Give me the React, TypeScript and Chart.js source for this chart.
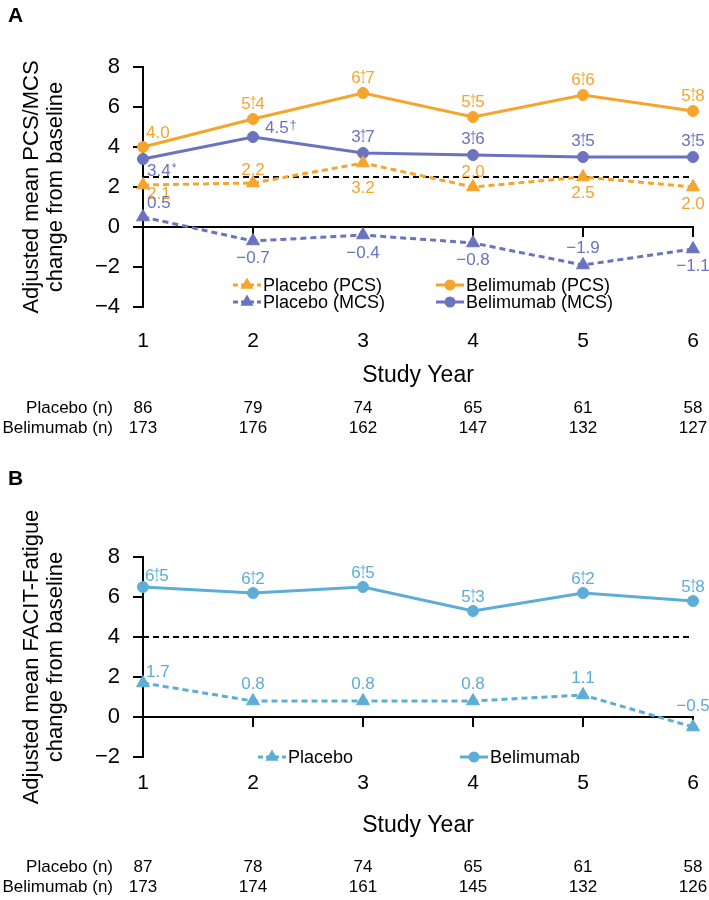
import { useEffect, useRef } from 'react';
import { Chart, registerables } from 'chart.js';

Chart.register(...registerables);

// ---------- data ----------
const studyYears = [1, 2, 3, 4, 5, 6];

// Panel A: SF-36 PCS / MCS
const pcsPlacebo = [2.1, 2.2, 3.2, 2.0, 2.5, 2.0];
const pcsBelimumab = [4.0, 5.4, 6.7, 5.5, 6.6, 5.8];
const mcsPlacebo = [0.5, -0.7, -0.4, -0.8, -1.9, -1.1];
const mcsBelimumab = [3.4, 4.5, 3.7, 3.6, 3.5, 3.5];
const pcsPlaceboSig = ['', '', '', '', '', ''];
const pcsBelimumabSig = ['', '†', '†', '†', '†', '†'];
const mcsPlaceboSig = ['', '', '', '', '', ''];
const mcsBelimumabSig = ['*', '†', '†', '†', '†', '†'];
const thresholdA = 2.5;
const yTicksA = [-4, 8];
const nPlaceboA = [86, 79, 74, 65, 61, 58];
const nBelimumabA = [173, 176, 162, 147, 132, 127];

// Panel B: FACIT-Fatigue
const facitPlacebo = [1.7, 0.8, 0.8, 0.8, 1.1, -0.5];
const facitBelimumab = [6.5, 6.2, 6.5, 5.3, 6.2, 5.8];
const facitPlaceboSig = ['', '', '', '', '', ''];
const facitBelimumabSig = ['†', '†', '†', '†', '†', '†'];
const thresholdB = 4;
const yTicksB = [-2, 8];
const nPlaceboB = [87, 78, 74, 65, 61, 58];
const nBelimumabB = [173, 174, 161, 145, 132, 126];

// ---------- styles ----------
const FONT = '"Liberation Sans", Arial, Helvetica, sans-serif';
const ORANGE = '#F5A52C';
const PURPLE = '#6A73BF';
const BLUE = '#5DADD6';
const W = 709;
const H = 450;

type Place = { dx: number; dy: number; align: 'left' | 'center'; over?: boolean };
const C = (dy: number, over = false): Place => ({ dx: 0, dy, align: 'center', over });
const L = (dx: number, dy: number, over = false): Place => ({ dx, dy, align: 'left', over });

type Series = {
  label: string;
  values: number[];
  marks: string[];
  color: string;
  dashed: boolean;
  pointStyle: 'circle' | 'triangle';
  places: Place[];
};

type PanelCfg = {
  tag: string;
  tagY: number;
  yRange: number[];
  yTitle: string[];
  padTop: number;
  xTickGap: number;
  threshold: number;
  series: Series[];
  legend: { series: number; x: number; y: number }[];
  nRows: { label: string; values: number[]; y: number }[];
};

function fmt(v: number) {
  const s = Math.abs(v).toFixed(1);
  return v < 0 ? '\u2212' + s : s;
}

function drawLabel(ctx: CanvasRenderingContext2D, x: number, y: number, v: number, mark: string, p: Place, color: string) {
  const txt = fmt(v);
  ctx.save();
  ctx.fillStyle = color;
  ctx.font = `17px ${FONT}`;
  ctx.textBaseline = 'middle';
  ctx.textAlign = 'left';
  const w = ctx.measureText(txt).width;
  const left = p.align === 'left' ? x + p.dx : x + p.dx - w / 2;
  const cy = y + p.dy;
  ctx.fillText(txt, left, cy);
  if (mark) {
    const dot = txt.indexOf('.');
    const pre = ctx.measureText(txt.slice(0, dot)).width;
    const dotW = ctx.measureText('.').width;
    ctx.font = `12px ${FONT}`;
    ctx.textBaseline = 'alphabetic';
    if (p.over && mark === '†') {
      ctx.textAlign = 'center';
      ctx.fillText(mark, left + pre + dotW / 2, cy + 1);
    } else {
      ctx.textAlign = 'left';
      ctx.fillText(mark, left + w + 1, cy + 1);
    }
  }
  ctx.restore();
}

function drawMarker(ctx: CanvasRenderingContext2D, style: string, x: number, y: number, color: string) {
  ctx.save();
  ctx.fillStyle = color;
  ctx.beginPath();
  if (style === 'triangle') {
    const r = 7.5;
    let a = 0;
    ctx.moveTo(x + Math.sin(a) * r, y - Math.cos(a) * r);
    a += (2 * Math.PI) / 3;
    ctx.lineTo(x + Math.sin(a) * r, y - Math.cos(a) * r);
    a += (2 * Math.PI) / 3;
    ctx.lineTo(x + Math.sin(a) * r, y - Math.cos(a) * r);
    ctx.closePath();
  } else {
    ctx.arc(x, y, 5.5, 0, Math.PI * 2);
  }
  ctx.fill();
  ctx.restore();
}

function makePlugin(p: PanelCfg) {
  return {
    id: 'extras' + p.tag,
    beforeDatasetsDraw(chart: any) {
      const { ctx, chartArea, scales } = chart;
      const y0 = scales.y.getPixelForValue(0);
      ctx.save();
      ctx.strokeStyle = '#000';
      ctx.lineWidth = 2;
      ctx.beginPath();
      ctx.moveTo(chartArea.left, y0);
      ctx.lineTo(chartArea.right + 1, y0);
      studyYears.slice(1).forEach((yr) => {
        const px = scales.x.getPixelForValue(yr);
        ctx.moveTo(px, y0);
        ctx.lineTo(px, y0 + 10);
      });
      ctx.stroke();
      ctx.restore();
    },
    afterDatasetsDraw(chart: any) {
      const { ctx } = chart;
      p.series.forEach((s, si) => {
        const meta = chart.getDatasetMeta(si);
        meta.data.forEach((pt: any, i: number) => {
          drawLabel(ctx, pt.x, pt.y, s.values[i], s.marks[i], s.places[i], s.color);
        });
      });
      // legend
      p.legend.forEach((item) => {
        const s = p.series[item.series];
        ctx.save();
        ctx.strokeStyle = s.color;
        ctx.lineWidth = 3;
        ctx.setLineDash(s.dashed ? [5, 3] : []);
        ctx.beginPath();
        ctx.moveTo(item.x, item.y);
        ctx.lineTo(item.x + 28, item.y);
        ctx.stroke();
        ctx.restore();
        drawMarker(ctx, s.pointStyle, item.x + 14, item.y, s.color);
        ctx.save();
        ctx.fillStyle = '#000';
        ctx.font = `18px ${FONT}`;
        ctx.textBaseline = 'middle';
        ctx.textAlign = 'left';
        ctx.fillText(s.label, item.x + 30, item.y + 1);
        ctx.restore();
      });
    },
    afterDraw(chart: any) {
      const { ctx, scales } = chart;
      ctx.save();
      ctx.fillStyle = '#000';
      ctx.font = `bold 21px ${FONT}`;
      ctx.textBaseline = 'middle';
      ctx.textAlign = 'left';
      ctx.fillText(p.tag, 8, p.tagY);
      ctx.font = `17px ${FONT}`;
      p.nRows.forEach((row) => {
        ctx.textAlign = 'right';
        ctx.fillText(row.label, 113, row.y);
        ctx.textAlign = 'center';
        row.values.forEach((n, i) => {
          ctx.fillText(String(n), scales.x.getPixelForValue(studyYears[i]), row.y);
        });
      });
      ctx.restore();
    },
  };
}

function buildChart(canvas: HTMLCanvasElement, p: PanelCfg) {
  const datasets: any[] = p.series.map((s) => ({
    label: s.label,
    data: studyYears.map((yr, i) => ({ x: yr, y: s.values[i] })),
    borderColor: s.color,
    backgroundColor: s.color,
    borderWidth: 3,
    borderDash: s.dashed ? [6, 4] : [],
    pointStyle: s.pointStyle,
    pointRadius: s.pointStyle === 'triangle' ? 7.5 : 5.5,
    pointBackgroundColor: s.color,
    pointBorderColor: s.color,
    pointBorderWidth: 1,
    tension: 0,
    clip: false,
  }));
  datasets.push({
    label: 'threshold',
    data: studyYears.map((yr) => ({ x: yr, y: p.threshold })),
    borderColor: '#000',
    borderWidth: 2,
    borderDash: [6, 4],
    pointRadius: 0,
    clip: false,
  });

  return new Chart(canvas, {
    type: 'line',
    data: { datasets },
    plugins: [makePlugin(p)],
    options: {
      animation: false,
      responsive: false,
      events: [],
      layout: { padding: { left: 0, right: 16, top: p.padTop, bottom: 61 } },
      plugins: { legend: { display: false }, tooltip: { enabled: false } },
      scales: {
        x: {
          type: 'linear',
          min: 1,
          max: 6,
          afterFit: (sc: any) => {
            sc.height = 82;
          },
          grid: {
            display: true,
            drawOnChartArea: false,
            drawTicks: true,
            tickLength: p.xTickGap,
            color: 'rgba(0,0,0,0)',
          },
          border: { display: false },
          ticks: { stepSize: 1, color: '#000', padding: 0, font: { family: FONT, size: 21 } },
          title: {
            display: true,
            text: 'Study Year',
            color: '#000',
            padding: 0,
            font: { family: FONT, size: 23, lineHeight: 1.2 },
          },
        },
        y: {
          type: 'linear',
          min: p.yRange[0],
          max: p.yRange[1],
          afterFit: (sc: any) => {
            sc.width = 143;
          },
          grid: { drawOnChartArea: false, drawTicks: true, tickLength: 10, color: '#000', lineWidth: 2 },
          border: { display: true, color: '#000', width: 2 },
          ticks: {
            stepSize: 2,
            color: '#000',
            padding: 13,
            font: { family: FONT, size: 22 },
            callback: (v: any) => (v < 0 ? '\u2212' + Math.abs(v) : String(v)),
          },
          title: {
            display: true,
            text: p.yTitle,
            color: '#000',
            padding: { top: 20, bottom: 0 },
            font: { family: FONT, size: 22, lineHeight: 1.1 },
          },
        },
      },
    } as any,
  });
}

const panelA: PanelCfg = {
  tag: 'A',
  tagY: 16,
  yRange: yTicksA,
  yTitle: ['Adjusted mean PCS/MCS', 'change from baseline'],
  padTop: 67,
  xTickGap: 22,
  threshold: thresholdA,
  series: [
    {
      label: 'Placebo (PCS)', values: pcsPlacebo, marks: pcsPlaceboSig, color: ORANGE, dashed: true, pointStyle: 'triangle',
      places: [L(4, 9), C(-13), C(25), C(-15), C(16), C(17)],
    },
    {
      label: 'Belimumab (PCS)', values: pcsBelimumab, marks: pcsBelimumabSig, color: ORANGE, dashed: false, pointStyle: 'circle',
      places: [L(3, -14), C(-15, true), C(-15, true), C(-15, true), C(-15, true), C(-15, true)],
    },
    {
      label: 'Placebo (MCS)', values: mcsPlacebo, marks: mcsPlaceboSig, color: PURPLE, dashed: true, pointStyle: 'triangle',
      places: [L(4, -14), C(17), C(18), C(17), C(-17), C(17)],
    },
    {
      label: 'Belimumab (MCS)', values: mcsBelimumab, marks: mcsBelimumabSig, color: PURPLE, dashed: false, pointStyle: 'circle',
      places: [L(4, 12), L(12, -9), C(-16, true), C(-16, true), C(-16, true), C(-16, true)],
    },
  ],
  legend: [
    { series: 0, x: 233, y: 285 },
    { series: 1, x: 436, y: 285 },
    { series: 2, x: 233, y: 302 },
    { series: 3, x: 436, y: 302 },
  ],
  nRows: [
    { label: 'Placebo (n)', values: nPlaceboA, y: 408 },
    { label: 'Belimumab (n)', values: nBelimumabA, y: 428 },
  ],
};

const panelB: PanelCfg = {
  tag: 'B',
  tagY: 29,
  yRange: yTicksB,
  yTitle: ['Adjusted mean FACIT-Fatigue', 'change from baseline'],
  padTop: 107,
  xTickGap: 14,
  threshold: thresholdB,
  series: [
    {
      label: 'Placebo', values: facitPlacebo, marks: facitPlaceboSig, color: BLUE, dashed: true, pointStyle: 'triangle',
      places: [L(3, -11), C(-17), C(-17), C(-17), C(-17), C(-21)],
    },
    {
      label: 'Belimumab', values: facitBelimumab, marks: facitBelimumabSig, color: BLUE, dashed: false, pointStyle: 'circle',
      places: [L(2, -11, true), C(-14, true), C(-14, true), C(-14, true), C(-14, true), C(-14, true)],
    },
  ],
  legend: [
    { series: 0, x: 258, y: 307 },
    { series: 1, x: 460, y: 307 },
  ],
  nRows: [
    { label: 'Placebo (n)', values: nPlaceboB, y: 417 },
    { label: 'Belimumab (n)', values: nBelimumabB, y: 437 },
  ],
};

function Panel({ cfg, top }: { cfg: PanelCfg; top: number }) {
  const ref = useRef<HTMLCanvasElement | null>(null);
  useEffect(() => {
    if (!ref.current) return;
    const chart = buildChart(ref.current, cfg);
    return () => chart.destroy();
  }, [cfg]);
  return (
    <canvas
      ref={ref}
      width={W}
      height={H}
      style={{ position: 'absolute', left: 0, top, width: W, height: H, display: 'block' }}
    />
  );
}

export default function App() {
  return (
    <div style={{ position: 'absolute', left: 0, top: 0, width: W, height: 900, background: '#fff' }}>
      <Panel cfg={panelA} top={0} />
      <Panel cfg={panelB} top={450} />
    </div>
  );
}
